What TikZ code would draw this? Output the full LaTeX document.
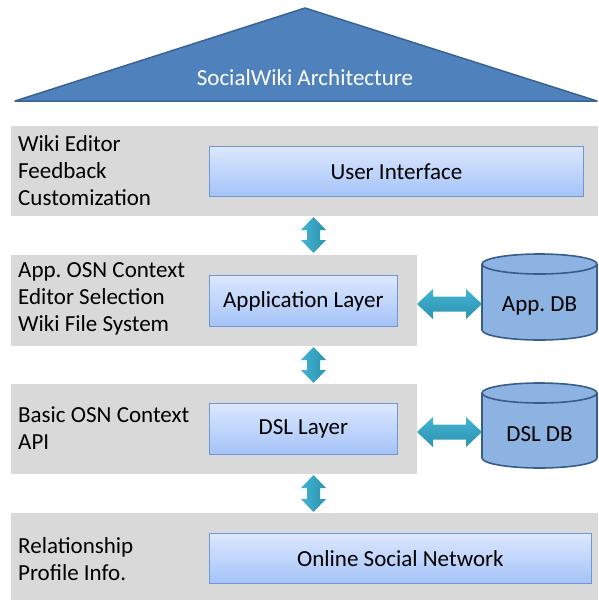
\documentclass[tikz,border=0pt]{standalone}
\usepackage{fontspec}
\setmainfont{Carlito}
\usetikzlibrary{calc}
\definecolor{roofblue}{HTML}{4F81BD}
\definecolor{roofedge}{HTML}{3A6394}
\definecolor{bandgray}{HTML}{D9D9D9}
\definecolor{boxtop}{HTML}{DCE8FE}
\definecolor{boxbot}{HTML}{A4C3F8}
\definecolor{boxedge}{HTML}{6F97D3}
\definecolor{dbfill}{HTML}{8DB3E2}
\definecolor{dbedge}{HTML}{385D8A}
\definecolor{arrtop}{HTML}{42B4D2}
\definecolor{arrbot}{HTML}{2B92AF}
\newcommand\vdarrow[2]{%
  \shade[left color=arrtop,right color=arrbot] let \p1=(#1), \p2=(#2) in
   (\x1,\y1) -- (\x1+12.5,\y1-13) -- (\x1+6.5,\y1-13) -- (\x1+6.5,\y2+13)
   -- (\x1+12.5,\y2+13) -- (\x1,\y2) -- (\x1-12.5,\y2+13) -- (\x1-6.5,\y2+13)
   -- (\x1-6.5,\y1-13) -- (\x1-12.5,\y1-13) -- cycle;}
\newcommand\hdarrow[2]{%
  \shade[top color=arrtop,bottom color=arrbot] let \p1=(#1), \p2=(#2) in
   (\x1,\y1) -- (\x1+16,\y1+15) -- (\x1+16,\y1+7.5) -- (\x2-16,\y1+7.5)
   -- (\x2-16,\y1+15) -- (\x2,\y1) -- (\x2-16,\y1-15) -- (\x2-16,\y1-7.5)
   -- (\x1+16,\y1-7.5) -- (\x1+16,\y1-15) -- cycle;}
\newcommand\dbcyl[4]{% center x, top y, bottom y, half width
  \fill[dbfill] (#1-#4,#2) -- (#1-#4,#3) arc[start angle=180,end angle=360,x radius=#4,y radius=10]
    -- (#1+#4,#2) arc[start angle=0,end angle=180,x radius=#4,y radius=10] -- cycle;
  \draw[dbedge,line width=1.6pt] (#1-#4,#2) -- (#1-#4,#3) arc[start angle=180,end angle=360,x radius=#4,y radius=10]
    -- (#1+#4,#2);
  \draw[dbedge,line width=1.6pt] (#1,#2) ellipse[x radius=#4,y radius=10];}
\begin{document}
\frenchspacing
\begin{tikzpicture}[x=1pt,y=1pt,
  band/.style={fill=bandgray,draw=none,anchor=north west,inner sep=0pt},
  layerbox/.style={top color=boxtop,bottom color=boxbot,draw=boxedge,line width=0.8pt,
    anchor=north west,inner sep=0pt},
  bigfont/.style={font=\fontsize{23}{27}\selectfont},
  sidetext/.style={anchor=west,align=left,inner sep=0pt,bigfont},
  dbtext/.style={inner sep=0pt,bigfont}]
\useasboundingbox (0,0) rectangle (598,-600);
% roof
\path[fill=roofblue,draw=roofedge,line width=1.5pt,line join=round]
  (15,-101) -- (305,-8) -- (597,-101) -- cycle;
\node[text=white,bigfont] (title) at (305,-78) {SocialWiki Architecture};
% bands
\node[band,minimum width=587,minimum height=90] (b1) at (11,-126) {};
\node[band,minimum width=406,minimum height=91] (b2) at (11,-255) {};
\node[band,minimum width=406,minimum height=90] (b3) at (11,-384) {};
\node[band,minimum width=587,minimum height=87] (b4) at (11,-513) {};
% layer boxes
\node[layerbox,minimum width=374,minimum height=50] (ui) at (209,-146) {};
\node[bigfont] (uit) at (ui.center) {User Interface};
\node[layerbox,minimum width=188,minimum height=51] (app) at (209,-275) {};
\node[bigfont] (appt) at (app.center) {Application Layer};
\node[layerbox,minimum width=188,minimum height=51] (dsl) at (209,-403) {};
\node[bigfont] (dslt) at (dsl.center) {DSL Layer};
\node[layerbox,minimum width=382,minimum height=50] (osn) at (209,-533) {};
\node[bigfont] (osnt) at (osn.center) {Online Social Network};
% side texts
\node[sidetext] (t1) at (18,-171) {Wiki Editor\\Feedback\\Customization};
\node[sidetext] (t2) at (18,-299) {App. OSN Context\\Editor Selection\\Wiki File System};
\node[sidetext] (t3) at (18,-428) {Basic OSN Context\\API};
\node[sidetext] (t4) at (18,-559) {Relationship\\Profile Info.};
% databases
\dbcyl{539.5}{-264}{-330}{57.5}
\node[dbtext] (appdb) at (539.5,-306) {App. DB};
\dbcyl{539.5}{-393}{-458}{57.5}
\node[dbtext] (dsldb) at (539.5,-434) {DSL DB};
% arrow end points
\coordinate (v1t) at (313.5,-217);
\coordinate (v1b) at (313.5,-253);
\coordinate (v2t) at (313.5,-347);
\coordinate (v2b) at (313.5,-383);
\coordinate (v3t) at (313.5,-475);
\coordinate (v3b) at (313.5,-512);
\coordinate (h1l) at (417,-304);
\coordinate (h1r) at (482,-304);
\coordinate (h2l) at (417,-432);
\coordinate (h2r) at (482,-432);
\vdarrow{v1t}{v1b}
\vdarrow{v2t}{v2b}
\vdarrow{v3t}{v3b}
\hdarrow{h1l}{h1r}
\hdarrow{h2l}{h2r}
\end{tikzpicture}
\end{document}
